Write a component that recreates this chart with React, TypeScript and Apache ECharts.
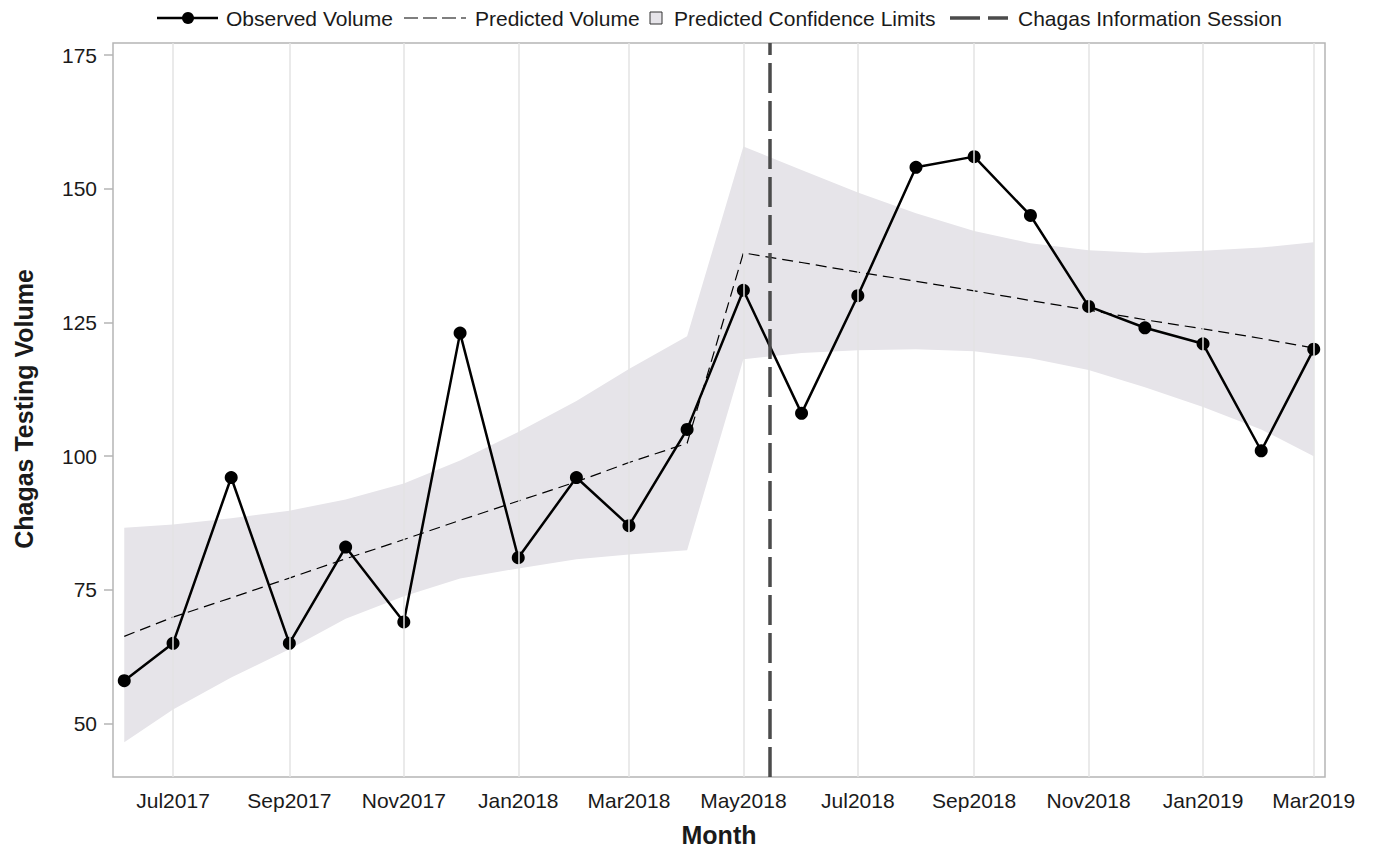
import React, { useEffect, useRef } from "react";
import * as echarts from "echarts";

// Monthly observations (x positions as dates)
const monthDates = [
  "2017-06-05", "2017-07-01", "2017-08-01", "2017-09-01", "2017-10-01", "2017-11-01",
  "2017-12-01", "2018-01-01", "2018-02-01", "2018-03-01", "2018-04-01", "2018-05-01",
  "2018-06-01", "2018-07-01", "2018-08-01", "2018-09-01", "2018-10-01", "2018-11-01",
  "2018-12-01", "2019-01-01", "2019-02-01", "2019-03-01",
];

const observedVolume = [
  58, 65, 96, 65, 83, 69, 123, 81, 96, 87, 105, 131,
  108, 130, 154, 156, 145, 128, 124, 121, 101, 120,
];

const predictedVolume = [
  66.3, 69.9, 73.5, 77.2, 80.8, 84.4, 88.0, 91.6, 95.2, 98.8, 102.4, 138.0,
  136.2, 134.4, 132.7, 130.9, 129.1, 127.3, 125.5, 123.8, 122.0, 120.2,
];

const upperLimit = [
  86.6, 87.2, 88.4, 89.8, 91.9, 94.9, 99.2, 104.5, 110.3, 116.3, 122.4, 157.9,
  153.5, 149.3, 145.4, 142.1, 139.8, 138.5, 138.0, 138.4, 139.0, 140.0,
];

const lowerLimit = [
  46.5, 52.6, 58.6, 63.9, 69.6, 73.8, 77.1, 79.0, 80.7, 81.6, 82.4, 118.1,
  119.3, 119.8, 120.0, 119.6, 118.3, 116.1, 112.9, 109.2, 105.0, 100.0,
];

const sessionDate = "2018-05-15";

const xTickDates = [
  "2017-07-01", "2017-09-01", "2017-11-01", "2018-01-01", "2018-03-01", "2018-05-01",
  "2018-07-01", "2018-09-01", "2018-11-01", "2019-01-01", "2019-03-01",
];
const xTickLabels = [
  "Jul2017", "Sep2017", "Nov2017", "Jan2018", "Mar2018", "May2018",
  "Jul2018", "Sep2018", "Nov2018", "Jan2019", "Mar2019",
];
const yTicks = [50, 75, 100, 125, 150, 175];

const xTitle = "Month";
const yTitle = "Chagas Testing Volume";

const xRange = ["2017-05-30", "2019-03-07"];
const yRange = [40, 177.25];

const ts = (d: string) => Date.parse(d + "T00:00:00Z");

const FONT = "'Liberation Sans', Arial, Helvetica, sans-serif";
const BAND = "#e6e4e9";
const TEXT = "#1a1a1a";

export default function App() {
  const ref = useRef<HTMLDivElement>(null);

  useEffect(() => {
    if (!ref.current) return;
    const chart = echarts.init(ref.current, undefined, { renderer: "svg" });

    const xs = monthDates.map(ts);
    const tickTs = xTickDates.map(ts);

    const legendY = 18;
    const legendText = (x: number, text: string) => ({
      type: "text",
      x,
      y: legendY,
      style: {
        text,
        font: `21px ${FONT}`,
        fill: TEXT,
        verticalAlign: "middle",
      },
    });

    // Confidence band: one polygon through the upper limits and back along the lower limits
    const renderBand = (params: any, api: any) => {
      if (params.dataIndex !== 0) return null;
      const pts: number[][] = [];
      for (let i = 0; i < xs.length; i++) pts.push(api.coord([xs[i], upperLimit[i]]));
      for (let i = xs.length - 1; i >= 0; i--) pts.push(api.coord([xs[i], lowerLimit[i]]));
      return {
        type: "polygon",
        shape: { points: pts },
        style: { fill: BAND, stroke: "none" },
      };
    };

    const option: any = {
      animation: false,
      backgroundColor: "#ffffff",
      grid: {
        left: 113,
        right: 49,
        top: 43,
        bottom: 72,
        show: true,
        borderColor: "#b5b5b5",
        borderWidth: 1.5,
        backgroundColor: "transparent",
        outerBoundsMode: "none",
        containLabel: false,
      },
      xAxis: {
        type: "value",
        min: ts(xRange[0]),
        max: ts(xRange[1]),
        axisLine: { show: false },
        axisTick: { show: false },
        splitLine: { show: false },
        axisLabel: {
          customValues: tickTs,
          margin: 13,
          fontFamily: FONT,
          fontSize: 21,
          color: TEXT,
          formatter: (v: number) => {
            const i = tickTs.indexOf(v);
            return i >= 0 ? xTickLabels[i] : "";
          },
        },
      },
      yAxis: {
        type: "value",
        min: yRange[0],
        max: yRange[1],
        axisLine: { show: false },
        axisTick: {
          show: true,
          customValues: yTicks,
          length: 9,
          lineStyle: { color: "#b5b5b5", width: 1.5 },
        },
        splitLine: { show: false },
        axisLabel: {
          customValues: yTicks,
          margin: 16,
          fontFamily: FONT,
          fontSize: 21,
          color: TEXT,
        },
      },
      graphic: [
        // Axis titles
        {
          type: "text",
          x: 719,
          y: 835,
          style: { text: xTitle, font: `bold 25px ${FONT}`, fill: TEXT, align: "center", verticalAlign: "middle" },
        },
        {
          type: "text",
          x: 24,
          y: 409,
          rotation: Math.PI / 2,
          style: { text: yTitle, font: `bold 25px ${FONT}`, fill: TEXT, align: "center", verticalAlign: "middle" },
        },
        // Observed Volume
        { type: "line", shape: { x1: 157, y1: legendY, x2: 218, y2: legendY }, style: { stroke: "#000", lineWidth: 2.5 } },
        { type: "circle", shape: { cx: 188, cy: legendY, r: 6 }, style: { fill: "#000" } },
        legendText(226, "Observed Volume"),
        // Predicted Volume
        { type: "line", shape: { x1: 404, y1: legendY, x2: 466, y2: legendY }, style: { stroke: "#000", lineWidth: 1.2, lineDash: [14, 5] } },
        legendText(475, "Predicted Volume"),
        // Predicted Confidence Limits
        { type: "rect", shape: { x: 650, y: legendY - 6, width: 12, height: 12 }, style: { fill: BAND, stroke: "#333", lineWidth: 1 } },
        legendText(674, "Predicted Confidence Limits"),
        // Chagas Information Session
        { type: "line", shape: { x1: 950, y1: legendY, x2: 1008, y2: legendY }, style: { stroke: "#4b4b4b", lineWidth: 3.5, lineDash: [30, 8] } },
        legendText(1018, "Chagas Information Session"),
      ],
      series: [
        {
          name: "Grid",
          type: "line",
          symbol: "none",
          silent: true,
          z: 1,
          lineStyle: { opacity: 0 },
          data: xs.map((x, i) => [x, lowerLimit[i]]),
          markLine: {
            silent: true,
            symbol: ["none", "none"],
            label: { show: false },
            lineStyle: { color: "#e3e3e3", width: 1.5, type: "solid" },
            data: tickTs.map((t) => ({ xAxis: t })),
          },
        },
        {
          name: "Predicted Confidence Limits",
          type: "custom",
          silent: true,
          z: 2,
          renderItem: renderBand,
          data: xs.map((x, i) => [x, lowerLimit[i], upperLimit[i]]),
          encode: { x: 0, y: [1, 2] },
        },
        {
          name: "Predicted Volume",
          type: "line",
          symbol: "none",
          z: 3,
          lineStyle: { color: "#000", width: 1.2, type: [11, 6] },
          data: xs.map((x, i) => [x, predictedVolume[i]]),
        },
        {
          name: "Observed Volume",
          type: "line",
          symbol: "circle",
          symbolSize: 13,
          z: 4,
          itemStyle: { color: "#000" },
          lineStyle: { color: "#000", width: 2.5 },
          data: xs.map((x, i) => [x, observedVolume[i]]),
          markLine: {
            silent: true,
            symbol: ["none", "none"],
            label: { show: false },
            lineStyle: { color: "#4b4b4b", width: 3.5, type: [30, 8] },
            data: [{ xAxis: ts(sessionDate) }],
          },
        },
      ],
    };

    chart.setOption(option);
    return () => chart.dispose();
  }, []);

  return (
    <div
      ref={ref}
      style={{ position: "fixed", left: 0, top: 0, width: 1374, height: 849, background: "#fff" }}
    />
  );
}
